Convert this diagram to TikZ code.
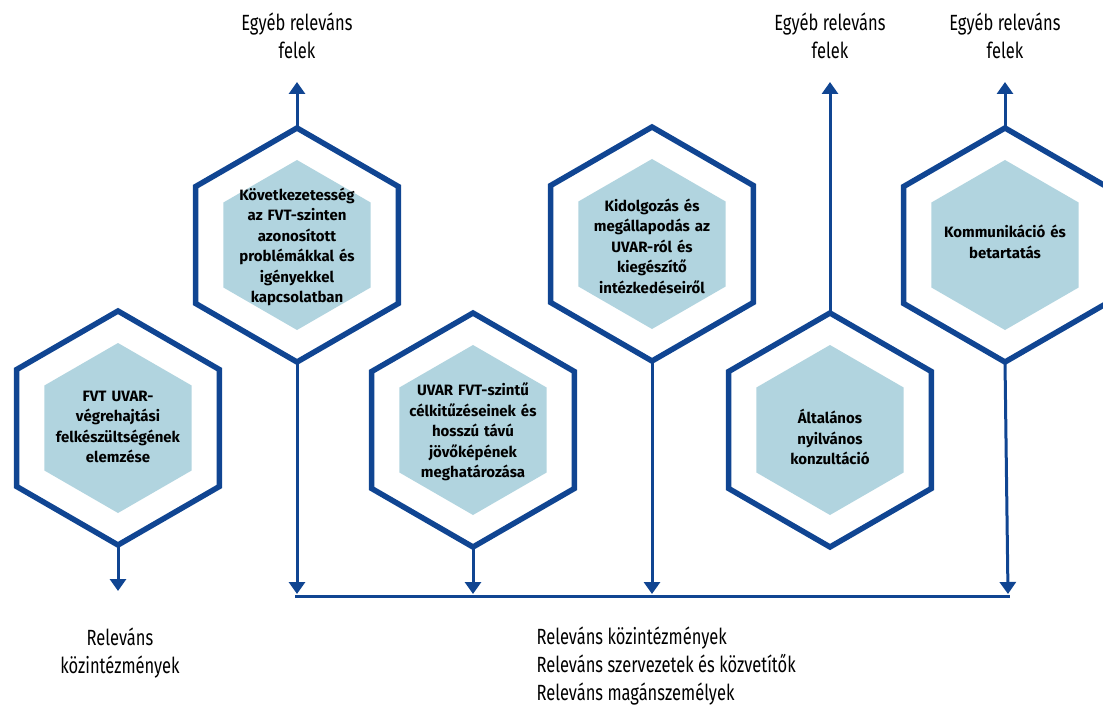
\documentclass[tikz,border=0pt]{standalone}
\usepackage{fontspec}
\setmainfont{Fira Sans}
\newfontfamily\lblfont[FakeStretch=0.75]{Fira Sans}
\usetikzlibrary{shapes.geometric,arrows.meta}
\definecolor{hexblue}{RGB}{16,69,146}
\definecolor{hexfill}{RGB}{177,212,223}

\begin{document}
\begin{tikzpicture}[
			x=1pt,
			y=-1pt,
			hexouter/.style={
				regular polygon,
				regular polygon sides=6,
				shape border rotate=30,
				minimum size=234pt,
				inner sep=0pt,
				outer sep=0pt,
				draw=hexblue,
				line width=5.5pt,
				fill=white,
			},
			hexinner/.style={
				regular polygon,
				regular polygon sides=6,
				shape border rotate=30,
				minimum size=170pt,
				inner sep=0pt,
				fill=hexfill,
			},
			hextext/.style={
				text width=150pt,
				align=center,
				font=\bfseries\fontsize{15}{20.5}\selectfont,
			},
			lbl/.style={
				align=center,
				font=\lblfont\fontsize{22}{28}\selectfont,
			},
			bus/.style={
				draw=hexblue,
				line width=3pt,
			},
			every edge/.style={
				>={Triangle[width=16pt,length=12pt]},
				draw=hexblue,
				line width=3pt,
			}]
		\useasboundingbox (0,0) rectangle (1103,706);

		\coordinate(busl) at (295,596);
		\coordinate(busr) at (1010,596);
		\draw[bus] (busl) -- (busr);

		\node[hexouter](elemzes) at (118,428) {};
		\node[hexinner](elemzes-in) at (118,428) {};
		\node[hextext](elemzes-txt) at (118,427) {FVT UVAR-\\végrehajtási\\felkészültségének\\elemzése};

		\node[hexouter](kovetk) at (297,245) {};
		\node[hexinner](kovetk-in) at (297,245) {};
		\node[hextext](kovetk-txt) at (297,247) {Következetesség\\az FVT-szinten\\azonosított\\problémákkal és\\igényekkel\\kapcsolatban};

		\node[hexouter](celok) at (473,430) {};
		\node[hexinner](celok-in) at (473,430) {};
		\node[hextext](celok-txt) at (473,432) {UVAR FVT-szintű\\célkitűzéseinek és\\hosszú távú\\jövőképének\\meghatározása};

		\node[hexouter](kidolg) at (652,244) {};
		\node[hexinner](kidolg-in) at (652,244) {};
		\node[hextext](kidolg-txt) at (652,246) {Kidolgozás és\\megállapodás az\\UVAR-ról és\\kiegészítő\\intézkedéseiről};

		\node[hexouter](konzult) at (830,430) {};
		\node[hexinner](konzult-in) at (830,430) {};
		\node[hextext](konzult-txt) at (830,437) {Általános\\nyilvános\\konzultáció};

		\node[hexouter](kommun) at (1005,245) {};
		\node[hexinner](kommun-in) at (1005,245) {};
		\node[hextext](kommun-txt) at (1005,242) {Kommunikáció és\\betartatás};

		\node[lbl](egyeb1) at (297,36) {Egyéb releváns\\felek};
		\node[lbl](egyeb2) at (830,36) {Egyéb releváns\\felek};
		\node[lbl](egyeb3) at (1005,36) {Egyéb releváns\\felek};
		\node[lbl](kozint) at (120,653) {Releváns\\közintézmények};
		\node[lbl,align=left,anchor=west](osszes) at (533,666) {Releváns közintézmények\\Releváns szervezetek és közvetítők\\Releváns magánszemélyek};

		\coordinate(up2) at (297,82);
		\coordinate(up5) at (830,82);
		\coordinate(up6) at (1005,82);
		\coordinate(down1) at (118,591);
		\coordinate(bus2) at (297,594);
		\coordinate(bus3) at (473,594);
		\coordinate(bus4) at (652,594);
		\coordinate(bus6) at (1008,594);

		\path (elemzes.south) edge[->] (down1);
		\path (kovetk.north) edge[->] (up2);
		\path (kovetk.south) edge[->] (bus2);
		\path (celok.south) edge[->] (bus3);
		\path (kidolg.south) edge[->] (bus4);
		\path (konzult.north) edge[->] (up5);
		\path (kommun.north) edge[->] (up6);
		\path (kommun.south) edge[->] (bus6);
	\end{tikzpicture}
\end{document}
